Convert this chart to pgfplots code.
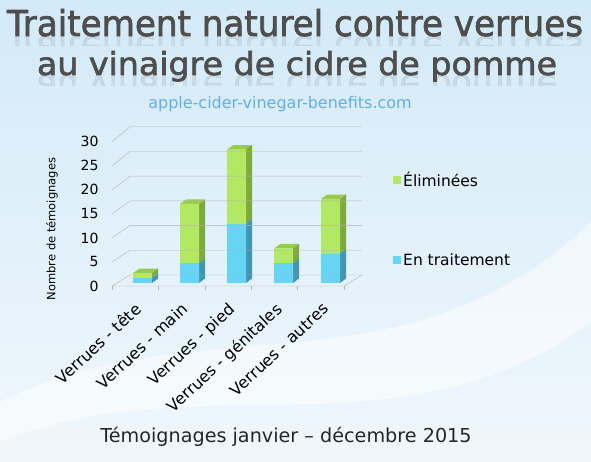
\documentclass[border=0pt]{standalone}
\usepackage{pgfplots}
\pgfplotsset{compat=1.18}
\usepackage{pgfplotstable}
\usepackage{fontspec}
\setmainfont{DejaVu Sans}
\newfontfamily\titlefont{DejaVu Sans}[FakeBold=2]
\definecolor{bluef}{HTML}{66D4F5}
\definecolor{blues}{HTML}{4296B4}
\definecolor{greenf}{HTML}{B2E862}
\definecolor{greens}{HTML}{7CAA3C}
\definecolor{greent}{HTML}{98CC4E}
\definecolor{gridg}{HTML}{B4B4B4}
\definecolor{titleg}{HTML}{4E4E4E}
\definecolor{subblue}{HTML}{62AEE6}
\definecolor{bgtop}{HTML}{D3EAF8}
\definecolor{bgbot}{HTML}{F0F7FC}
\pgfplotstableread{
x blue green total
0 1 1 2
1 4 12 16
2 12 15 27
3 4 3 7
4 6 11 17
}\data
\begin{document}
\begin{tikzpicture}[x=1pt,y=1pt]
\shade[top color=bgtop, bottom color=bgbot] (0,0) rectangle (591,462);
\fill[white, opacity=0.5] (0,60) .. controls (200,160) and (400,60) .. (591,240) -- (591,140) .. controls (400,0) and (200,100) .. (0,20) -- cycle;
\path[use as bounding box] (0,0) rectangle (591,462);
% title
\node[anchor=base, text=titleg, inner sep=0pt] at (295,426) {\resizebox{576pt}{27pt}{\titlefont Traitement naturel contre verrues}};
\node[anchor=base, text=titleg, inner sep=0pt] at (297,387) {\resizebox{520pt}{24pt}{\titlefont au vinaigre de cidre de pomme}};
\begin{scope}
\clip (0,416) rectangle (591,426);
\node[anchor=base, text=titleg, inner sep=0pt, yscale=-1, opacity=0.1] at (295,426) {\resizebox{576pt}{27pt}{\titlefont Traitement naturel contre verrues}};
\end{scope}
\begin{scope}
\clip (0,376) rectangle (591,387);
\node[anchor=base, text=titleg, inner sep=0pt, yscale=-1, opacity=0.1] at (297,387) {\resizebox{520pt}{24pt}{\titlefont au vinaigre de cidre de pomme}};
\end{scope}
\node[text=subblue, font=\fontsize{16}{19}\selectfont] at (280,358) {apple-cider-vinegar-benefits.com};
\node[anchor=base, font=\fontsize{19.2}{23}\selectfont, text=black!85] at (286,19) {Témoignages janvier – décembre 2015};
\begin{axis}[
  at={(112pt,171.6pt)}, anchor=south west,
  scale only axis, width=250pt, height=163.7pt,
  xmin=-0.649, xmax=4.67, ymin=-1.5, ymax=31.64,
  axis line style={draw=none}, tick style={draw=none}, clip=false,
  ybar stacked, bar width=0.404,
  xtick={0,1,2,3,4},
  xticklabels={Verrues - tête, Verrues - main, Verrues - pied, Verrues - génitales, Verrues - autres},
  ytick={-0.607,4.258,9.123,13.988,18.853,23.718,28.583},
  yticklabels={0,5,10,15,20,25,30},
  major tick length=0pt,
  xticklabel shift=11pt,
  xticklabel style={xshift=-9pt, rotate=43, anchor=north east, inner sep=0pt, font=\fontsize{16}{19}\selectfont},
  yticklabel style={anchor=east, font=\fontsize{14}{17}\selectfont, xshift=-10pt},
  /pgf/number format/assume math mode=true,
  ylabel={Nombre de témoignages},
  ylabel style={font=\fontsize{11.5}{14}\selectfont, at={(axis description cs:-0.24,0.375)}, anchor=center},
  legend style={at={(axis description cs:1.112,0.75)}, anchor=north west, draw=none, fill=none,
    font=\fontsize{15.5}{18}\selectfont, row sep=62pt, legend cell align=left},
  reverse legend,
]
\draw[gridg] (axis cs:-0.649,-0.607) -- (axis cs:-0.266,1.62) -- (axis cs:4.67,1.62) -- (axis cs:4.287,-0.607) -- cycle;
\draw[gridg] (axis cs:-0.649,4.258) -- (axis cs:-0.266,6.62) -- (axis cs:4.67,6.62);
\draw[gridg] (axis cs:-0.649,9.123) -- (axis cs:-0.266,11.62) -- (axis cs:4.67,11.62);
\draw[gridg] (axis cs:-0.649,13.988) -- (axis cs:-0.266,16.62) -- (axis cs:4.67,16.62);
\draw[gridg] (axis cs:-0.649,18.853) -- (axis cs:-0.266,21.62) -- (axis cs:4.67,21.62);
\draw[gridg] (axis cs:-0.649,23.718) -- (axis cs:-0.266,26.62) -- (axis cs:4.67,26.62);
\draw[gridg] (axis cs:-0.649,28.583) -- (axis cs:-0.266,31.62) -- (axis cs:4.67,31.62);
\foreach \t in {-0.649,0.338,1.325,2.312,3.299,4.287}{
  \edef\tmp{\noexpand\draw[gridg] (axis cs:\t,-0.607) -- (axis cs:\t,-1.45);}\tmp
}
\addplot[fill=bluef, draw=none, legend image code/.code={\fill[bluef] (0pt,-4pt) rectangle (8pt,4pt);}] table[x=x, y=blue] {\data};
\addlegendentry{En traitement}
\addplot[fill=greenf, draw=none, legend image code/.code={\fill[greenf] (0pt,-4pt) rectangle (8pt,4pt);}] table[x=x, y=green] {\data};
\addlegendentry{Éliminées}
\pgfplotsinvokeforeach{0,...,4}{
  \pgfplotstablegetelem{#1}{blue}\of\data \let\bv\pgfplotsretval
  \pgfplotstablegetelem{#1}{total}\of\data \let\tv\pgfplotsretval
  \pgfmathsetmacro\xr{#1+0.202}
  \pgfmathsetmacro\xl{#1-0.202}
  \pgfmathsetmacro\xrb{#1+0.332}
  \pgfmathsetmacro\xlb{#1-0.072}
  \pgfmathsetmacro\bvb{\bv+0.91}
  \pgfmathsetmacro\tvb{\tv+0.91}
  \edef\tmp{\noexpand\fill[blues] (axis cs:\xr,0) -- (axis cs:\xrb,0.91) -- (axis cs:\xrb,\bvb) -- (axis cs:\xr,\bv) -- cycle;
    \noexpand\fill[greens] (axis cs:\xr,\bv) -- (axis cs:\xrb,\bvb) -- (axis cs:\xrb,\tvb) -- (axis cs:\xr,\tv) -- cycle;
    \noexpand\fill[greent] (axis cs:\xl,\tv) -- (axis cs:\xr,\tv) -- (axis cs:\xrb,\tvb) -- (axis cs:\xlb,\tvb) -- cycle;}\tmp
}
\end{axis}
\end{tikzpicture}
\end{document}
